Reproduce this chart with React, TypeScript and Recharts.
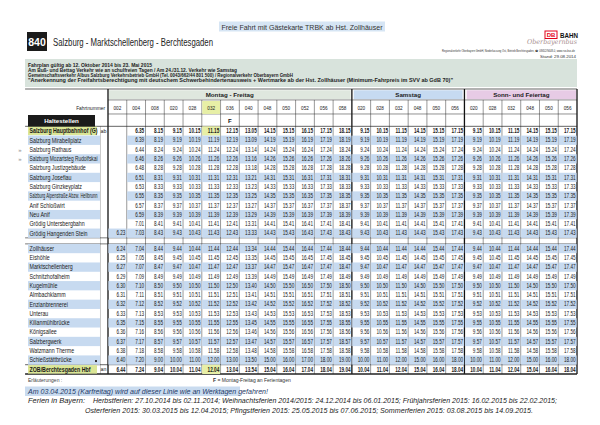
import { ScatterChart, Scatter, XAxis, YAxis, ReferenceArea, ReferenceLine } from 'recharts';

const SANS = "'Liberation Sans', Arial, sans-serif";

// Fahrtnummern per Verkehrstag
const mfTripNumbers = ['002', '004', '008', '020', '028', '032', '036', '040', '048', '050', '052', '056', '058'];
const saTripNumbers = ['020', '028', '032', '048', '050', '056'];
const soTripNumbers = ['020', '028', '032', '048', '050', '056'];
const mfNotes = ['', '', '', '', '', '', 'F', '', '', '', '', '', ''];

const dayGroups = ['Montag - Freitag', 'Samstag', 'Sonn- und Feiertag'];

const stops = [
  'Salzburg Hauptbahnhof (G)',
  'Salzburg Mirabellplatz',
  'Salzburg Rathaus',
  'Salzburg Mozartsteg Rudolfskai',
  'Salzburg Justizgebäude',
  'Salzburg Josefiau',
  'Salzburg Ginzkeyplatz',
  'Salzburg Alpenstraße Abzw. Hellbrunn',
  'Anif Schloßwirt',
  'Neu Anif',
  'Grödig Untersbergbahn',
  'Grödig Hangenden Stein',
  'Zollhäuser',
  'Eishöhle',
  'Marktschellenberg',
  'Schnitzhofalheim',
  'Kugelmühle',
  'Almbachklamm',
  'Enzianbrennerei',
  'Unterau',
  'Kilianmühlbrücke',
  'Königsallee',
  'Salzbergwerk',
  'Watzmann Therme',
  'Schießstättbrücke',
  'ZOB/Berchtesgaden Hbf',
];
const stopSuffix = ['ab', '', '', '', '', '', '', '', '', '', '', '', '', '', '', '', '', '', '', '', '', '', '', '', '', 'an'];
const stopMarks = ['', '', '»', '»', '', '', '', '', '', '', '', '', '', '', '', '', '', '', '', '', '', '', '', '', '', ''];

// Abfahrtszeiten je Fahrt (eine Zeile je Haltestelle)
const t002 = ['', '', '', '', '', '', '', '', '', '', '', '6.23', '6.24', '6.25', '6.27', '6.29', '6.30', '6.31', '6.32', '6.33', '6.35', '6.36', '6.37', '6.38', '6.40', '6.44'];
const t004 = ['6.35', '6.39', '6.44', '6.46', '6.48', '6.51', '6.53', '6.55', '6.57', '6.59', '7.01', '7.03', '7.04', '7.05', '7.07', '7.09', '7.10', '7.11', '7.12', '7.13', '7.15', '7.16', '7.17', '7.18', '7.20', '7.24'];
const t008 = ['8.15', '8.19', '8.24', '8.26', '8.28', '8.31', '8.33', '8.35', '8.37', '8.39', '8.41', '8.43', '8.44', '8.45', '8.47', '8.49', '8.50', '8.51', '8.52', '8.53', '8.55', '8.56', '8.57', '8.58', '9.00', '9.04'];
const t020 = ['9.15', '9.19', '9.24', '9.26', '9.28', '9.31', '9.33', '9.35', '9.37', '9.39', '9.41', '9.43', '9.44', '9.45', '9.47', '9.49', '9.50', '9.51', '9.52', '9.53', '9.55', '9.56', '9.57', '9.58', '10.00', '10.04'];
const t028 = ['10.15', '10.19', '10.24', '10.26', '10.28', '10.31', '10.33', '10.35', '10.37', '10.39', '10.41', '10.43', '10.44', '10.45', '10.47', '10.49', '10.50', '10.51', '10.52', '10.53', '10.55', '10.56', '10.57', '10.58', '11.00', '11.04'];
const t032 = ['11.15', '11.19', '11.24', '11.26', '11.28', '11.31', '11.33', '11.35', '11.37', '11.39', '11.41', '11.43', '11.44', '11.45', '11.47', '11.49', '11.50', '11.51', '11.52', '11.53', '11.55', '11.56', '11.57', '11.58', '12.00', '12.04'];
const t036 = ['12.15', '12.19', '12.24', '12.26', '12.28', '12.31', '12.33', '12.35', '12.37', '12.39', '12.41', '12.43', '12.44', '12.45', '12.47', '12.49', '12.50', '12.51', '12.52', '12.53', '12.55', '12.56', '12.57', '12.58', '13.00', '13.04'];
const t040 = ['13.05', '13.09', '13.14', '13.16', '13.18', '13.21', '13.23', '13.25', '13.27', '13.29', '13.31', '13.33', '13.34', '13.35', '13.37', '13.39', '13.40', '13.41', '13.42', '13.43', '13.45', '13.46', '13.47', '13.48', '13.50', '13.54'];
const t048 = ['14.15', '14.19', '14.24', '14.26', '14.28', '14.31', '14.33', '14.35', '14.37', '14.39', '14.41', '14.43', '14.44', '14.45', '14.47', '14.49', '14.50', '14.51', '14.52', '14.53', '14.55', '14.56', '14.57', '14.58', '15.00', '15.04'];
const t050 = ['15.15', '15.19', '15.24', '15.26', '15.28', '15.31', '15.33', '15.35', '15.37', '15.39', '15.41', '15.43', '15.44', '15.45', '15.47', '15.49', '15.50', '15.51', '15.52', '15.53', '15.55', '15.56', '15.57', '15.58', '16.00', '16.04'];
const t052 = ['16.15', '16.19', '16.24', '16.26', '16.28', '16.31', '16.33', '16.35', '16.37', '16.39', '16.41', '16.43', '16.44', '16.45', '16.47', '16.49', '16.50', '16.51', '16.52', '16.53', '16.55', '16.56', '16.57', '16.58', '17.00', '17.04'];
const t056 = ['17.15', '17.19', '17.24', '17.26', '17.28', '17.31', '17.33', '17.35', '17.37', '17.39', '17.41', '17.43', '17.44', '17.45', '17.47', '17.49', '17.50', '17.51', '17.52', '17.53', '17.55', '17.56', '17.57', '17.58', '18.00', '18.04'];
const t058 = ['18.15', '18.19', '18.24', '18.26', '18.28', '18.31', '18.33', '18.35', '18.37', '18.39', '18.41', '18.43', '18.44', '18.45', '18.47', '18.49', '18.50', '18.51', '18.52', '18.53', '18.55', '18.56', '18.57', '18.58', '19.00', '19.04'];

// Samstag und Sonntag fahren dieselben Zeiten wie die gleichnamigen Werktagsfahrten
const mfTrips = [t002, t004, t008, t020, t028, t032, t036, t040, t048, t050, t052, t056, t058];
const saTrips = [t020, t028, t032, t048, t050, t056];
const soTrips = [t020, t028, t032, t048, t050, t056];

const tripNumbers = [...mfTripNumbers, ...saTripNumbers, ...soTripNumbers];
const trips = [...mfTrips, ...saTrips, ...soTrips];
const tripNotes = tripNumbers.map((_, i) => mfNotes[i] || '');

// layout
const PLOT_L = 108;
const PLOT_R = 577;
const COL_W = (PLOT_R - PLOT_L) / tripNumbers.length;
const ROW_H = 9.294;
const GAP = 0.65;
const Y_TOP = -4.516;
const Y_BOT = 26.15;
const FN_TOP = -3.336;
const FN_Y = -2.53;
const FN_BOTTOM = -1.829;
const NOTE_Y = -1.13;
const NAME_X = -4.42; // x=25px in column units
const HI_COL = 5;
const GROUP_BREAKS = [0, 13, 19, 25];

const STRIPE = '#c7daf0';
const HI = '#e7efa6';
const HI_NAME = '#dbe696';
const BAND_COLORS = ['#dfe7de', '#c6daf1', '#e7cbe5'];

const rowPos = (r: number) => (r < 12 ? r : r + GAP);
const isShaded = (r: number) => (r < 12 ? r % 2 === 1 : r % 2 === 0 && r < 25);
const isBoldRow = (r: number) => r === 0 || r === stops.length - 1;

// condensed look: measure in Liberation Sans and squeeze
const ctx = typeof document !== 'undefined' ? document.createElement('canvas').getContext('2d') : null;
function squeeze(text: string, size: number, bold: boolean, factor: number, max = 999) {
  if (!ctx) return undefined;
  ctx.font = `${bold ? 'bold ' : ''}${size}px 'Liberation Sans'`;
  return Math.min(ctx.measureText(text).width * factor, max);
}

const timeCells = trips.flatMap((col, c) =>
  col.map((t, r) => ({ x: c + 0.5, y: rowPos(r), t, r, c }))
).filter((d) => d.t !== '');
const headerCells = tripNumbers.map((n, c) => ({ x: c + 0.5, y: FN_Y, label: n, c }));
const noteCells = tripNotes.map((n, c) => ({ x: c + 0.5, y: NOTE_Y, label: n, c })).filter((d) => d.label !== '');

function TimeCell(props: any) {
  const { cx, cy, payload } = props;
  const { t, r, c } = payload;
  const bold = isBoldRow(r);
  const hi = c === HI_COL && bold;
  const shaded = isShaded(r);
  return (
    <g>
      {(hi || shaded) && (
        <rect x={cx - COL_W / 2 + 0.4} y={cy - ROW_H / 2} width={COL_W - 0.8} height={ROW_H} fill={hi ? HI : STRIPE} />
      )}
      <text x={cx + COL_W / 2 - 1.3} y={cy + 2.2} textAnchor="end" fontFamily={SANS} fontSize={6.3}
        fontWeight={bold ? 'bold' : 'normal'} fill="#1a1a1a"
        textLength={squeeze(t, 6.3, bold, 0.74)} lengthAdjust="spacingAndGlyphs">{t}</text>
    </g>
  );
}

function HeaderCell(props: any) {
  const { cx, cy, payload } = props;
  const hi = payload.c === HI_COL;
  return (
    <g>
      {hi && <rect x={cx - COL_W / 2 + 0.5} y={cy - 6.5} width={COL_W - 1} height={13} fill={HI} />}
      <text x={cx} y={cy + 2.1} textAnchor="middle" fontFamily={SANS} fontSize={6.2} fill="#222"
        textLength={squeeze(payload.label, 6.2, false, 0.75)} lengthAdjust="spacingAndGlyphs">{payload.label}</text>
    </g>
  );
}

function NoteCell(props: any) {
  const { cx, cy, payload } = props;
  return (
    <text x={cx} y={cy + 2.2} textAnchor="middle" fontFamily={SANS} fontSize={6} fontWeight="bold" fill="#111">{payload.label}</text>
  );
}

function StopTick(props: any) {
  const { y, index } = props;
  const name = stops[index];
  if (name === undefined) return null;
  const bold = isBoldRow(index);
  return (
    <g>
      {isShaded(index) && <rect x={28} y={y - ROW_H / 2} width={72} height={ROW_H} fill={STRIPE} />}
      {bold && <rect x={28} y={y - ROW_H / 2 + 0.4} width={69} height={ROW_H - 0.8} fill={HI_NAME} />}
      <text x={29.5} y={y + 2.3} fontFamily={SANS} fontSize={6.6} fontWeight={bold ? 'bold' : 'normal'}
        fill="#1a1a1a" textLength={squeeze(name, 6.6, bold, 0.8, 68)} lengthAdjust="spacingAndGlyphs">{name}</text>
      {stopSuffix[index] && (
        <text x={103.5} y={y + 2} textAnchor="middle" fontFamily={SANS} fontSize={5.3} fill="#222">{stopSuffix[index]}</text>
      )}
      {stopMarks[index] && (
        <text x={20} y={y + 2} textAnchor="middle" fontFamily={SANS} fontSize={6} fill="#8a8a8a">{stopMarks[index]}</text>
      )}
      {index === 24 && <rect x={95} y={y} width={2} height={2} fill="#333" />}
    </g>
  );
}

function PageText() {
  return (
    <g fontFamily={SANS}>
      <rect x={219} y={21.5} width={166} height={10} fill="#d6e5f4" />
      <text x={302} y={29.5} textAnchor="middle" fontSize={7.8} fill="#333" textLength={161} lengthAdjust="spacingAndGlyphs">
        Freie Fahrt mit Gästekarte TRBK ab Hst. Zollhäuser
      </text>

      <rect x={27} y={32} width={20} height={19} fill="#1b1b1b" />
      <text x={37} y={45.5} textAnchor="middle" fontSize={10.5} fontWeight="bold" fill="#fff">840</text>
      <text x={53} y={45.5} fontSize={10.5} fill="#222" textLength={160} lengthAdjust="spacingAndGlyphs">
        Salzburg - Marktschellenberg - Berchtesgaden
      </text>

      <rect x={545} y={31} width={12} height={7.5} fill="#fff" stroke="#e3001b" strokeWidth={1} />
      <text x={551} y={37} textAnchor="middle" fontSize={6} fontWeight="bold" fill="#e3001b">DB</text>
      <text x={560} y={37.5} fontSize={7} fontWeight="bold" fill="#111" textLength={18} lengthAdjust="spacingAndGlyphs">BAHN</text>
      <text x={527} y={44.3} fontFamily="'DejaVu Serif', serif" fontStyle="italic" fontSize={6.8} fill="#a88f8f"
        textLength={50} lengthAdjust="spacingAndGlyphs">Oberbayernbus</text>
      <text x={442} y={51.8} fontSize={3} fill="#333" textLength={133} lengthAdjust="spacingAndGlyphs">
        Regionalverkehr Oberbayern GmbH, Niederlassung Ost, Betrieb Berchtesgaden, ☎ 08652/9448-0, www.rvo-bus.de
      </text>
      <text x={576} y={57.8} textAnchor="end" fontSize={4.4} fill="#333">Stand: 29.08.2014</text>

      <rect x={25} y={59} width={552} height={28} fill="#d8e3dc" />
      <text x={28} y={66.8} fontSize={5.6} fontWeight="bold" fill="#1c1c1c" textLength={124} lengthAdjust="spacingAndGlyphs">
        Fahrplan gültig ab 12. Oktober 2014 bis 23. Mai 2015
      </text>
      <text x={28} y={72} fontSize={5.6} fontWeight="bold" fill="#1c1c1c" textLength={209} lengthAdjust="spacingAndGlyphs">
        Am Buß- und Bettag Verkehr wie an schulfreien Tagen / Am 24./31.12. Verkehr wie Samstag
      </text>
      <text x={28} y={77.2} fontSize={5.6} fontWeight="bold" fill="#1c1c1c" textLength={265} lengthAdjust="spacingAndGlyphs">
        Gemeinschaftsverkehr Albus Salzburg Verkehrsbetrieb GmbH (Tel. 0043/662/44 801 500) / Regionalverkehr Oberbayern GmbH
      </text>
      <text x={28} y={82.4} fontSize={5.6} fontWeight="bold" fill="#1c1c1c" textLength={425} lengthAdjust="spacingAndGlyphs">
        "Anerkennung der Freifahrtsberechtigung mit deutschem Schwerbehindertenausweis + Wertmarke ab der Hst. Zollhäuser (Minimum-Fahrpreis im SVV ab GdB 70)"
      </text>

      <text x={105} y={109.5} textAnchor="end" fontSize={6} fill="#222" textLength={squeeze('Fahrtnummer', 6, false, 0.8)}
        lengthAdjust="spacingAndGlyphs">Fahrtnummer</text>
      <rect x={28} y={115} width={67} height={12} fill="#1b1b1b" />
      <text x={61.5} y={123.3} textAnchor="middle" fontSize={6.2} fontWeight="bold" fill="#fff">Haltestellen</text>

      <text x={28} y={382} fontSize={5} fill="#444">Erläuterungen :</text>
      <text x={213} y={382} fontSize={5} fill="#333">
        <tspan fontWeight="bold">F</tspan> = Montag-Freitag an Ferientagen
      </text>
      <rect x={25} y={386.5} width={215} height={9.5} fill="#c9dbef" />
      <text x={28} y={393.8} fontSize={7.2} fontStyle="italic" fill="#1f3a68" textLength={240} lengthAdjust="spacingAndGlyphs">
        Am 03.04.2015 (Karfreitag) wird auf dieser Linie wie an Werktagen gefahren!
      </text>
      <text x={28} y={403.3} fontSize={7} fontStyle="italic" fill="#222" textLength={57} lengthAdjust="spacingAndGlyphs">Ferien in Bayern:</text>
      <text x={93} y={403.3} fontSize={7} fontStyle="italic" fill="#222" textLength={464} lengthAdjust="spacingAndGlyphs">
        Herbstferien: 27.10.2014 bis 02.11.2014; Weihnachtsferien 2014/2015: 24.12.2014 bis 06.01.2015; Frühjahrsferien 2015: 16.02.2015 bis 22.02.2015;
      </text>
      <text x={85} y={413.3} fontSize={7} fontStyle="italic" fill="#222" textLength={448} lengthAdjust="spacingAndGlyphs">
        Osterferien 2015: 30.03.2015 bis 12.04.2015; Pfingstferien 2015: 25.05.2015 bis 07.06.2015; Sommerferien 2015: 03.08.2015 bis 14.09.2015.
      </text>
    </g>
  );
}

export default function App() {
  const bands = [
    { x1: 0.05, x2: 12.93 },
    { x1: 13.1, x2: 18.9 },
    { x1: 19.12, x2: 24.95 },
  ];
  const thinBreaks = tripNumbers.map((_, i) => i).filter((i) => i > 0 && !GROUP_BREAKS.includes(i));
  const hLines = [
    { y: Y_TOP, from: NAME_X, w: 0.7 },
    { y: FN_TOP, from: 0, w: 0.5 },
    { y: FN_BOTTOM, from: 0, w: 0.5 },
    { y: -0.5, from: NAME_X, w: 0.7 },
    { y: 11.5, from: NAME_X, w: 0.6 },
    { y: 12 + GAP - 0.5, from: NAME_X, w: 0.6 },
    { y: 25 + GAP - 0.5, from: NAME_X, w: 0.7 },
    { y: Y_BOT, from: NAME_X, w: 1.3 },
  ];

  return (
    <div style={{ width: 600, height: 425, background: '#fff', overflow: 'hidden' }}>
      <style>{'body{margin:0}'}</style>
      <ScatterChart width={600} height={425} margin={{ top: 89, right: 600 - PLOT_R, bottom: 425 - 374, left: 0 }}>
        <XAxis type="number" dataKey="x" domain={[0, tripNumbers.length]} allowDataOverflow hide />
        <YAxis
          type="number"
          dataKey="y"
          domain={[Y_TOP, Y_BOT]}
          allowDataOverflow
          reversed
          width={PLOT_L}
          ticks={stops.map((_, r) => rowPos(r))}
          interval={0}
          axisLine={false}
          tickLine={false}
          tickSize={0}
          tick={(p: any) => <StopTick {...p} />}
        />
        {bands.map((b, i) => (
          <ReferenceArea
            key={dayGroups[i]}
            x1={b.x1}
            x2={b.x2}
            y1={-4.38}
            y2={FN_TOP - 0.08}
            fill={BAND_COLORS[i]}
            fillOpacity={1}
            stroke="none"
            label={{ value: dayGroups[i], position: 'center', fontSize: 6.2, fontWeight: 'bold', fill: '#222', fontFamily: SANS }}
          />
        ))}
        <Scatter data={timeCells} isAnimationActive={false} shape={(p: any) => <TimeCell {...p} />} />
        <Scatter data={headerCells} isAnimationActive={false} shape={(p: any) => <HeaderCell {...p} />} />
        <Scatter data={noteCells} isAnimationActive={false} shape={(p: any) => <NoteCell {...p} />} />
        {thinBreaks.map((b) => (
          <ReferenceLine key={`v${b}`} segment={[{ x: b, y: FN_TOP }, { x: b, y: Y_BOT }]} stroke="#333" strokeWidth={0.5} ifOverflow="visible" />
        ))}
        {GROUP_BREAKS.map((b) => (
          <ReferenceLine key={`g${b}`} segment={[{ x: b, y: Y_TOP }, { x: b, y: Y_BOT }]} stroke="#111" strokeWidth={1.3} ifOverflow="visible" />
        ))}
        <ReferenceLine segment={[{ x: -0.4, y: -0.5 }, { x: -0.4, y: Y_BOT }]} stroke="#777" strokeWidth={0.4} ifOverflow="visible" />
        {hLines.map((l) => (
          <ReferenceLine key={`h${l.y}`} segment={[{ x: l.from, y: l.y }, { x: tripNumbers.length, y: l.y }]} stroke="#222" strokeWidth={l.w} ifOverflow="visible" />
        ))}
        <PageText />
      </ScatterChart>
    </div>
  );
}
